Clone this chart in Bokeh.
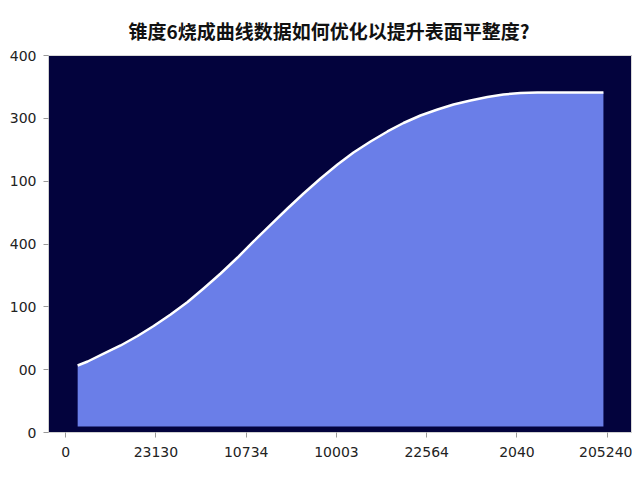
from bokeh.plotting import figure
from bokeh.models import FixedTicker, Range1d, Title
from bokeh.embed import file_html
from bokeh.resources import INLINE

title_text = "锥度6烧成曲线数据如何优化以提升表面平整度?"

x_tick_labels = ["0", "23130", "10734", "10003", "22564", "2040", "205240"]
y_tick_labels = ["0", "00", "100", "400", "100", "300", "400"]

curve_x = [0.133, 0.244, 0.421, 0.609, 0.797, 0.975, 1.163, 1.351, 1.528, 1.717,
           1.905, 2.082, 2.270, 2.458, 2.636, 2.824, 3.012, 3.189, 3.378, 3.566,
           3.743, 3.931, 4.120, 4.297, 4.485, 4.673, 4.850, 5.039, 5.227, 5.958]
curve_y = [1.066, 1.130, 1.257, 1.385, 1.536, 1.695, 1.878, 2.077, 2.292, 2.531,
           2.785, 3.040, 3.303, 3.565, 3.804, 4.043, 4.265, 4.456, 4.631, 4.791,
           4.926, 5.045, 5.141, 5.220, 5.284, 5.340, 5.379, 5.403, 5.411, 5.411]
fill_base = 0.095

p = figure(width=632, height=478, output_backend="svg", toolbar_location=None,
           title=None,
           x_range=Range1d(-0.19, 6.28), y_range=Range1d(0, 6),
           min_border_left=48, min_border_right=0, min_border_top=55, min_border_bottom=46)

spacer = Title(text=" ", text_font_size="4px", standoff=0)
p.add_layout(spacer, "above")
main_title = Title(text=title_text, text_font="Noto Sans CJK SC", text_font_style="bold",
                   text_font_size="19px", align="left", offset=80, text_color="#111111")
p.add_layout(main_title, "above")

p.background_fill_color = "#03033d"
p.border_fill_color = "white"
p.outline_line_color = "#d8d8d8"
p.grid.visible = False

p.varea(x=curve_x, y1=[fill_base] * len(curve_x), y2=curve_y, fill_color="#6a7ee8")
p.line(x=curve_x, y=curve_y, line_color="white", line_width=2.5, line_join="round")

p.xaxis.ticker = FixedTicker(ticks=list(range(len(x_tick_labels))))
p.xaxis.major_label_overrides = {i: t for i, t in enumerate(x_tick_labels)}
p.yaxis.ticker = FixedTicker(ticks=list(range(len(y_tick_labels))))
p.yaxis.major_label_overrides = {i: t for i, t in enumerate(y_tick_labels)}

for ax in (p.xaxis, p.yaxis):
    ax.axis_line_color = "#d0d0d0"
    ax.major_tick_line_color = "#999999"
    ax.major_tick_in = 0
    ax.major_tick_out = 5
    ax.minor_tick_line_color = None
    ax.major_label_text_font = "DejaVu Sans"
    ax.major_label_text_font_size = "14px"
    ax.major_label_text_color = "#222222"
p.xaxis.major_label_standoff = 9
p.yaxis.major_label_standoff = 7

open("out.html", "w").write(file_html(p, INLINE))
